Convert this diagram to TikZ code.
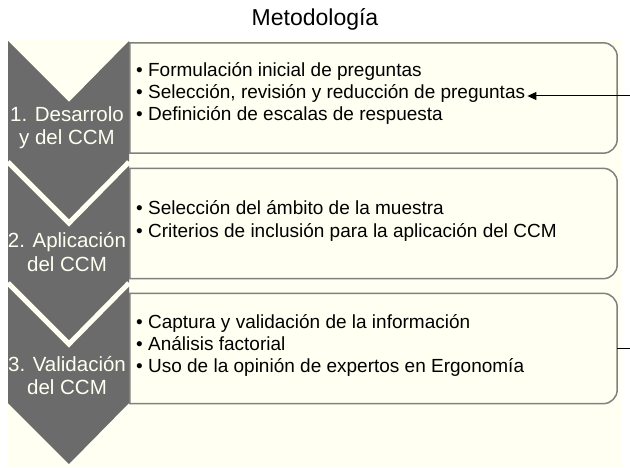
\documentclass[tikz,border=0pt]{standalone}
\usepackage{fontspec}
\setmainfont{Liberation Sans}
\usetikzlibrary{arrows.meta}
\definecolor{cream}{HTML}{FFFFF2}
\definecolor{chevgray}{HTML}{6B6B6B}
\definecolor{boxline}{HTML}{808080}
\newcommand\drawbox[1]{%
  \draw[boxstyle] (#1.north west) -- ([xshift=-14pt]#1.north east)
    arc[start angle=90,end angle=0,radius=14pt] -- ([yshift=14pt]#1.south east)
    arc[start angle=0,end angle=-90,radius=14pt] -- (#1.south west) -- cycle;}
\begin{document}
\begin{tikzpicture}[x=1pt,y=1pt,
  chevfill/.style={fill=chevgray},
  gapline/.style={draw=cream,line width=5pt},
  boxstyle/.style={draw=boxline,line width=1.5pt,fill=cream},
  boxarea/.style={draw=none,inner sep=0pt,minimum width=487pt,minimum height=110pt},
  item/.style={anchor=west,inner sep=2pt,font=\fontsize{19}{22}\selectfont,text height=0.72em,text depth=0.22em},
  chevlabel/.style={inner sep=0pt,text=cream,font=\fontsize{20.5}{24}\selectfont,text height=0.72em,text depth=0.22em},
  titlestyle/.style={inner sep=0pt,font=\fontsize{23}{27}\selectfont},
  conn/.style={draw=black,line width=1pt}]
\useasboundingbox (0,0) rectangle (630,-468);
% background
\fill[cream] (7,-40) rectangle (622,-467);
% title
\node[titlestyle] (title) at (315,-19) {Metodología};
% chevrons
\foreach \t in {41,162,283}{
  \fill[chevfill] (8,-\t) -- (69,-\t-61) -- (129,-\t) -- (129,-\t-120) -- (69,-\t-181) -- (8,-\t-120) -- cycle;
}
\draw[gapline] (8,-162) -- (69,-223) -- (129,-162);
\draw[gapline] (8,-283) -- (69,-344) -- (129,-283);
% boxes
\node[boxarea] (box1) at (373.5,-98) {};
\node[boxarea] (box2) at (373.5,-223.5) {};
\node[boxarea] (box3) at (373.5,-348.5) {};
\drawbox{box1}
\drawbox{box2}
\drawbox{box3}
% chevron labels
\node[chevlabel] (c1a) at (67,-119) {1. Desarrolo};
\node[chevlabel] (c1b) at (67,-142) {y del CCM};
\node[chevlabel] (c2a) at (67,-245) {2. Aplicación};
\node[chevlabel] (c2b) at (67,-269) {del CCM};
\node[chevlabel] (c3a) at (67,-369) {3. Validación};
\node[chevlabel] (c3b) at (67,-392) {del CCM};
% items
\node[item] (b1a) at (134,-74) {• Formulación inicial de preguntas};
\node[item] (b1b) at (134,-96) {• Selección, revisión y reducción de preguntas};
\node[item] (b1c) at (134,-118) {• Definición de escalas de respuesta};
\node[item] (b2a) at (134,-212) {• Selección del ámbito de la muestra};
\node[item] (b2b) at (134,-235) {• Criterios de inclusión para la aplicación del CCM};
\node[item] (b3a) at (134,-326) {• Captura y validación de la información};
\node[item] (b3b) at (134,-348) {• Análisis factorial};
\node[item] (b3c) at (134,-370) {• Uso de la opinión de expertos en Ergonomía};
% connectors
\coordinate (e1) at (630,-96);
\coordinate (e2) at (630,-348.5);
\draw[conn,-{Triangle[length=9pt,width=8pt]}] (e1) -- (b1b.east);
\draw[conn] (box3.east) -- (e2);
\end{tikzpicture}
\end{document}
